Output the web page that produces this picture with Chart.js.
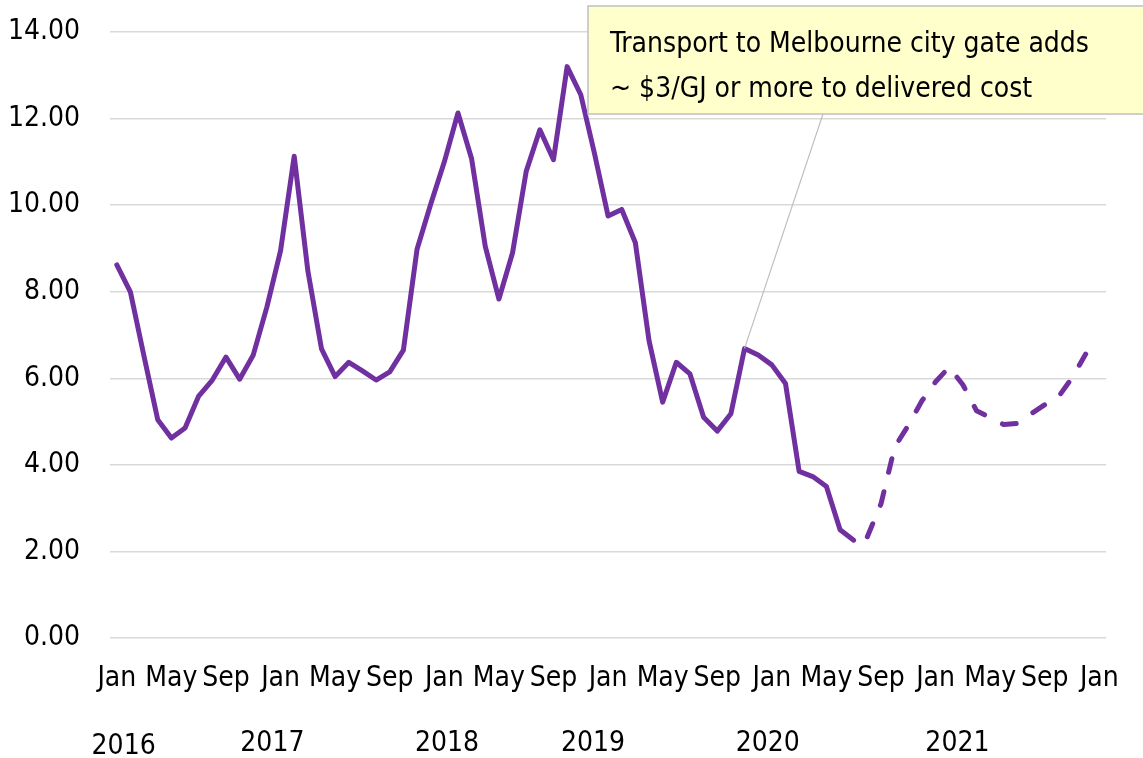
<!DOCTYPE html>
<html>
<head>
<meta charset="utf-8">
<script src="https://cdn.jsdelivr.net/npm/chart.js@4.4.1/dist/chart.umd.min.js"></script>
<style>
  body { margin: 0; background: #fff; }
  #wrap { width: 1143px; height: 758px; position: relative; }
</style>
</head>
<body>
<div id="wrap"><canvas id="grafico"></canvas></div>
<script>
// meses de Jan 2016 a Jan 2022
const monthNames = ['Jan', 'Feb', 'Mar', 'Apr', 'May', 'Jun', 'Jul', 'Aug', 'Sep', 'Oct', 'Nov', 'Dec'];
const years = [2016, 2017, 2018, 2019, 2020, 2021, 2022];
const categories = [];
years.forEach(function (y) {
  monthNames.forEach(function (m) {
    if (y < 2022 || m === 'Jan') categories.push(m + ' ' + y);
  });
});

// precio historico (Jan 2016 - Jul 2020)
const actualValues = [
  8.62, 7.99, 6.50, 5.04, 4.62, 4.85, 5.59, 5.96, 6.49, 5.98, 6.54, 7.65,
  8.95, 11.13, 8.48, 6.68, 6.04, 6.37, 6.17, 5.96, 6.15, 6.65, 8.98, 10.02,
  11.00, 12.13, 11.07, 9.05, 7.83, 8.90, 10.78, 11.74, 11.05, 13.20, 12.55, 11.20,
  9.75, 9.90, 9.13, 6.87, 5.45, 6.37, 6.10, 5.10, 4.78, 5.18, 6.69, 6.54,
  6.31, 5.88, 3.85, 3.73, 3.50, 2.50, 2.26
];
// proyeccion (Aug 2020 - Dec 2021)
const forecastValues = [
  2.34, 3.10, 4.41, 4.91, 5.48, 5.92, 6.26, 5.85, 5.25, 5.09, 4.93, 4.96,
  5.18, 5.39, 5.57, 6.01, 6.56
];

const yTicks = [0, 2, 4, 6, 8, 10, 12, 14];
const yearLabels = ['2016', '2017', '2018', '2019', '2020', '2021'];
const yearLabelAt = [0.5, 11.4, 24.2, 34.9, 47.7, 61.6]; // posicion en indice de categoria
const calloutLines = ['Transport to Melbourne city gate adds', '~ $3/GJ or more to delivered cost'];
const calloutMonth = 'Nov 2019';

const FONT = '"Liberation Sans Narrow", "Arial Narrow", "DejaVu Sans Condensed", sans-serif';
const PURPLE = '#7030A0';

const forecastData = categories.map(function (c, i) {
  const k = i - actualValues.length;
  return (k >= 0 && k < forecastValues.length) ? forecastValues[k] : null;
});

const yearRow = {
  id: 'yearRow',
  afterDraw: function (chart) {
    const ctx = chart.ctx;
    const xs = chart.scales.x;
    ctx.save();
    ctx.font = '28px ' + FONT;
    ctx.fillStyle = '#000';
    ctx.textAlign = 'center';
    ctx.textBaseline = 'middle';
    yearLabels.forEach(function (t, i) {
      ctx.fillText(t, xs.getPixelForValue(yearLabelAt[i]), i === 0 ? 747 : 744);
    });
    ctx.restore();
  }
};

const callout = {
  id: 'callout',
  afterDraw: function (chart) {
    const ctx = chart.ctx;
    const idx = categories.indexOf(calloutMonth);
    const px = chart.scales.x.getPixelForValue(idx);
    const py = chart.scales.y.getPixelForValue(actualValues[idx]);
    ctx.save();
    ctx.strokeStyle = '#bfbfbf';
    ctx.lineWidth = 1.2;
    ctx.beginPath();
    ctx.moveTo(823, 114);
    ctx.lineTo(px, py);
    ctx.stroke();

    ctx.fillStyle = '#ffffcc';
    ctx.fillRect(588, 6, 570, 108);
    ctx.strokeStyle = '#bfbfbf';
    ctx.lineWidth = 1.5;
    ctx.strokeRect(588, 6, 570, 108);

    ctx.fillStyle = '#000';
    ctx.font = '28px ' + FONT;
    ctx.textAlign = 'left';
    ctx.textBaseline = 'alphabetic';
    ctx.fillText(calloutLines[0], 610, 52);
    ctx.fillText(calloutLines[1], 610, 97);
    ctx.restore();
  }
};

const ctx = document.getElementById('grafico').getContext('2d');
new Chart(ctx, {
  type: 'line',
  data: {
    labels: categories,
    datasets: [{
      label: 'Actual',
      data: actualValues,
      borderColor: PURPLE,
      borderWidth: 5,
      borderCapStyle: 'round',
      borderJoinStyle: 'round',
      pointRadius: 0,
      tension: 0,
      fill: false
    }, {
      label: 'Forecast',
      data: forecastData,
      borderColor: PURPLE,
      borderWidth: 5,
      borderDash: [14, 20],
      borderCapStyle: 'round',
      borderJoinStyle: 'round',
      pointRadius: 0,
      tension: 0,
      fill: false,
      spanGaps: false
    }]
  },
  options: {
    responsive: true,
    maintainAspectRatio: false,
    animation: false,
    layout: { padding: { top: 32, right: 36, left: 0, bottom: 0 } },
    plugins: {
      legend: { display: false },
      tooltip: { enabled: false }
    },
    scales: {
      x: {
        offset: true,
        grid: { display: false, drawTicks: false },
        border: { display: false },
        ticks: {
          autoSkip: false,
          maxRotation: 0,
          minRotation: 0,
          padding: 24,
          color: '#000',
          font: { family: FONT, size: 28 },
          callback: function (v, i) {
            return i % 4 === 0 ? categories[i].split(' ')[0] : '';
          }
        },
        afterFit: function (s) { s.height = 120; }
      },
      y: {
        min: 0,
        max: 14,
        afterBuildTicks: function (s) { s.ticks = yTicks.map(function (v) { return { value: v }; }); },
        grid: { color: '#d9d9d9', lineWidth: 1.5, drawTicks: false },
        border: { display: false },
        ticks: {
          padding: 30,
          color: '#000',
          font: { family: FONT, size: 28 },
          callback: function (v) { return v.toFixed(2); }
        },
        afterFit: function (s) {
          s.width = 110;
          s.paddingTop = 0;
          s.paddingBottom = 0;
        }
      }
    }
  },
  plugins: [yearRow, callout]
});
</script>
</body>
</html>
